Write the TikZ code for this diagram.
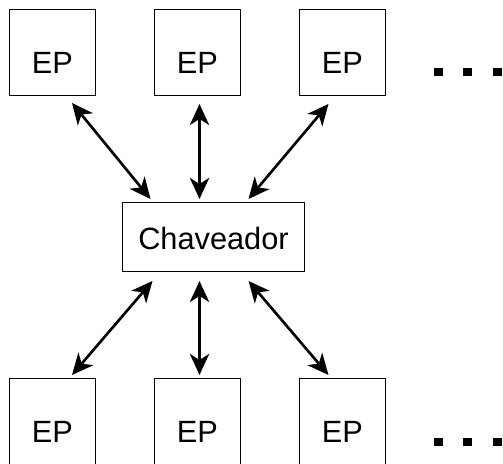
\documentclass[tikz,border=0pt]{standalone}
\usepackage{fontspec}
\setmainfont{Liberation Sans}
\usepackage{xcolor}
\usepackage{tikz}
\usetikzlibrary{arrows.meta, positioning}
\tikzset{
	node distance = 1.17cm,
	line width = 1.8pt,
	>={Stealth[length=12pt, width=11pt, inset=3.5pt]},
	font = \fontsize{17.5pt}{21pt}\selectfont,
	epbox/.style={
		draw,
		rectangle,
		minimum size=1.73cm,
		outer sep=0pt,
		text height=0.84cm,
		text depth=0pt
	},
	hub/.style={
		draw,
		rectangle,
		minimum width=3.63cm,
		minimum height=1.39cm,
		outer sep=0pt,
		text height=0.52cm,
		text depth=0pt
	},
	link/.style={
		<->,
		line width=1.5pt
	}
}

\begin{document}
\begin{tikzpicture}
        \useasboundingbox (-1.05,1.05) rectangle (9.01,-8.23);
        \node[epbox] (ep1) at (0,0) {EP};
        \node[epbox,right=of ep1] (ep2) {EP};
        \node[epbox,right=of ep2] (ep3) {EP};
        \node[hub,below=2.13cm of ep2,xshift=0.32cm] (chav) {Chaveador};
        \node[epbox,below=2.13cm of chav,xshift=-0.32cm] (ep5) {EP};
        \node[epbox,left=of ep5] (ep4) {EP};
        \node[epbox,right=of ep5] (ep6) {EP};
        \path ([shift={(0.39,-0.145)}]ep1.south) edge[link] ([shift={(-1.26,0.065)}]chav.north)
            ([shift={(0.04,-0.165)}]ep2.south) edge[link] ([shift={(-0.28,0.065)}]chav.north)
            ([shift={(-0.28,-0.165)}]ep3.south) edge[link] ([shift={(0.70,0.065)}]chav.north)
            ([shift={(-1.22,-0.185)}]chav.south) edge[link] ([shift={(0.39,0.065)}]ep4.north)
            ([shift={(-0.28,-0.185)}]chav.south) edge[link] ([shift={(0.04,0.065)}]ep5.north)
            ([shift={(0.70,-0.185)}]chav.south) edge[link] ([shift={(-0.28,0.065)}]ep6.north);
        % the rows go on to the right
        \foreach \r/\dy in {ep3/-0.31, ep6/-0.33} {
            \foreach \d in {0,1,2}
                \fill ([shift={({1.83+0.59*\d},\dy)}]\r.center) rectangle ++(0.18,-0.16);
        }
    \end{tikzpicture}
\end{document}
